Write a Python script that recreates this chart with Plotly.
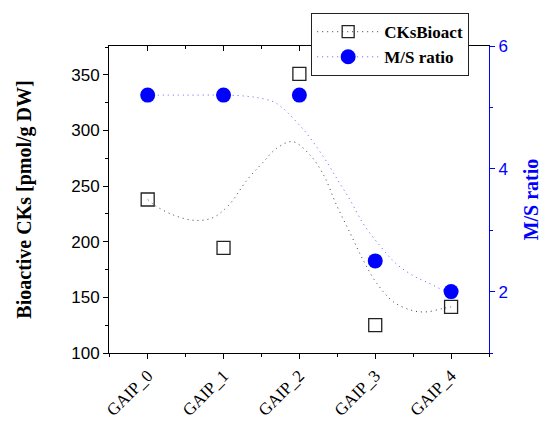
import plotly.graph_objects as go

categories = ["GAIP_0", "GAIP_1", "GAIP_2", "GAIP_3", "GAIP_4"]
x_pos = [0, 1, 2, 3, 4]
cks_bioact = [238, 194.5, 351, 125, 141.5]
ms_ratio = [5.2, 5.2, 5.2, 2.5, 2.0]

# smooth (B-spline style) connecting curves
curve_ck_x = [0, 0.10, 0.34, 0.61, 0.85, 1.07, 1.31, 1.51, 1.70, 1.91, 2.14, 2.32,
              2.49, 2.67, 2.84, 3.02, 3.24, 3.50, 3.68, 3.89, 4.0]
curve_ck_y = [238, 232.5, 224, 219.3, 221.4, 233, 255.6, 270.6, 284, 290, 278, 260,
              233, 207.6, 183.6, 162.7, 146, 138, 137, 140, 141.5]
curve_ms_x = [0, 0.5, 1.0, 1.22, 1.44, 1.66, 1.79, 1.92, 2.10, 2.32, 2.51, 2.67,
              2.84, 3.06, 3.28, 3.50, 3.72, 3.89, 4.0]
curve_ms_y = [5.2, 5.2, 5.2, 5.19, 5.16, 5.09, 4.98, 4.82, 4.57, 4.19, 3.81, 3.49,
              3.11, 2.75, 2.45, 2.26, 2.13, 2.03, 2.0]

BLUE = "#0000ff"
CK_LINE = "rgba(40,40,40,0.9)"
MS_LINE = "#5c5cff"
DOT = "1px,4px"
serif = "Liberation Serif"
sans = "Liberation Sans"
XR = [-0.51, 4.5]

fig = go.Figure()

fig.add_trace(go.Scatter(x=curve_ck_x, y=curve_ck_y, mode="lines", line_shape="spline",
                         line=dict(color=CK_LINE, width=1, dash=DOT), showlegend=False,
                         hoverinfo="skip"))
fig.add_trace(go.Scatter(x=curve_ms_x, y=curve_ms_y, mode="lines", line_shape="spline",
                         yaxis="y2", line=dict(color=MS_LINE, width=1, dash=DOT),
                         showlegend=False, hoverinfo="skip"))
fig.add_trace(go.Scatter(x=x_pos, y=cks_bioact, mode="markers", showlegend=False,
                         marker=dict(symbol="square-open", size=13,
                                     color="#222", line=dict(width=1.3, color="#222"))))
fig.add_trace(go.Scatter(x=x_pos, y=ms_ratio, mode="markers", yaxis="y2", showlegend=False,
                         marker=dict(symbol="circle", size=15, color=BLUE)))
# dummy trace so the top (mirror) axis is drawn
fig.add_trace(go.Scatter(x=[None], y=[None], xaxis="x2", showlegend=False, hoverinfo="skip"))

# legend entries
fig.add_trace(go.Scatter(x=[None], y=[None], mode="lines+markers", name="CKsBioact",
                         line=dict(color=CK_LINE, width=1, dash=DOT),
                         marker=dict(symbol="square-open", size=12, color="#222",
                                     line=dict(width=1.3, color="#222"))))
fig.add_trace(go.Scatter(x=[None], y=[None], mode="lines+markers", name="M/S ratio",
                         yaxis="y2", line=dict(color=MS_LINE, width=1, dash=DOT),
                         marker=dict(symbol="circle", size=15, color=BLUE)))

fig.update_layout(
    width=542, height=421,
    margin=dict(l=109, r=53, t=46, b=68),
    paper_bgcolor="white", plot_bgcolor="white",
    showlegend=True,
    legend=dict(x=0.532, y=1.107, xanchor="left", yanchor="top",
                bgcolor="white", bordercolor="#222", borderwidth=1,
                font=dict(family=serif, size=17, color="black", weight="bold"),
                tracegroupgap=0, itemwidth=62),
    xaxis=dict(range=XR, tickvals=x_pos, ticktext=categories, automargin=False,
               tickangle=-45, ticks="outside", ticklen=5, tickwidth=1, tickcolor="black",
               showline=True, linecolor="black", linewidth=1, showgrid=False, zeroline=False,
               tickfont=dict(family=serif, size=17, color="black"),
               minor=dict(tickvals=[-0.5, 0.5, 1.5, 2.5, 3.5, 4.5], ticks="outside",
                          ticklen=3, tickcolor="black", showgrid=False)),
    xaxis2=dict(range=XR, overlaying="x", side="top", tickvals=x_pos, automargin=False,
                showticklabels=False, ticks="inside", ticklen=5, tickcolor="black",
                showline=True, linecolor="black", linewidth=1, showgrid=False, zeroline=False,
                minor=dict(tickvals=[-0.5, 0.5, 1.5, 2.5, 3.5, 4.5], ticks="inside",
                           ticklen=3, tickcolor="black", showgrid=False)),
    yaxis=dict(range=[100, 376], tickvals=[100, 150, 200, 250, 300, 350], automargin=False,
               ticks="outside", ticklen=5, tickcolor="black",
               showline=True, linecolor="black", linewidth=1, showgrid=False, zeroline=False,
               tickfont=dict(family=sans, size=17, color="black"),
               minor=dict(tickvals=[125, 175, 225, 275, 325, 375], ticks="outside",
                          ticklen=3, tickcolor="black", showgrid=False),
               title=dict(text="Bioactive CKs [pmol/g DW]", standoff=34,
                          font=dict(family=serif, size=20, color="black", weight="bold"))),
    yaxis2=dict(range=[1, 6], overlaying="y", side="right", tickvals=[2, 4, 6],
                automargin=False,
                ticks="outside", ticklen=5, tickcolor=BLUE,
                showline=True, linecolor=BLUE, linewidth=1, showgrid=False, zeroline=False,
                tickfont=dict(family=sans, size=17, color=BLUE),
                minor=dict(tickvals=[1, 3, 5], ticks="outside", ticklen=3,
                           tickcolor=BLUE, showgrid=False),
                title=dict(text="M/S ratio", standoff=23,
                           font=dict(family=serif, size=20, color=BLUE, weight="bold"))),
)

fig.write_html("out.html")
